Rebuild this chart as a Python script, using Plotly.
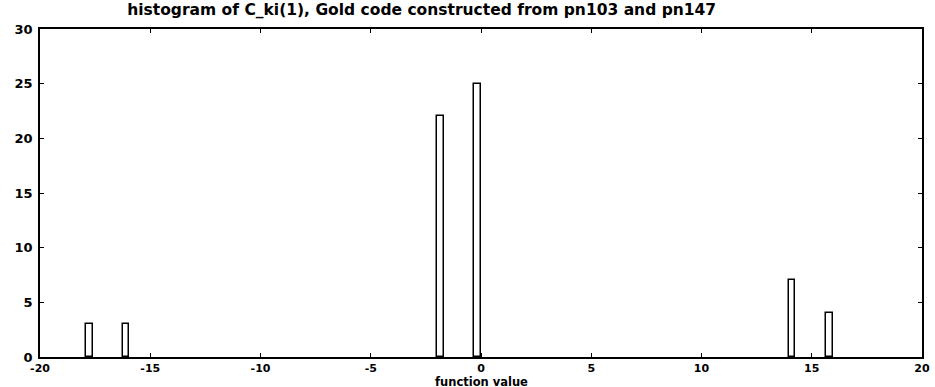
import plotly.graph_objects as go

# Data
bin_centers = [-17.75, -16.1, -1.85, -0.15, 14.1, 15.8]
counts = [3, 3, 22, 25, 7, 4]
x_ticks = [-20, -15, -10, -5, 0, 5, 10, 15, 20]
y_ticks = [0, 5, 10, 15, 20, 25, 30]

FONT = "DejaVu Sans"

fig = go.Figure()
fig.add_trace(go.Bar(
    x=bin_centers,
    y=counts,
    width=0.3,
    marker=dict(color="white", line=dict(color="black", width=1.5)),
    showlegend=False,
))

fig.update_layout(
    width=935,
    height=387,
    margin=dict(l=40, r=13, t=29, b=30, autoexpand=False),
    paper_bgcolor="white",
    plot_bgcolor="white",
    font=dict(family=FONT, size=12, color="black"),
    title=dict(
        text="<b>histogram of C_ki(1), Gold code constructed from pn103 and pn147</b>",
        x=0.451, xanchor="center", y=0.988, yanchor="top",
        font=dict(family=FONT, size=15.5, color="black"),
    ),
    bargap=0,
    annotations=[dict(
        text="<b>function value</b>",
        xref="paper", yref="paper", x=0.5, y=0,
        xanchor="center", yanchor="top", yshift=-17,
        showarrow=False, borderpad=0,
        font=dict(family=FONT, size=11.5, color="black"),
    )],
)

fig.update_xaxes(
    range=[-20, 20],
    tickmode="array",
    tickvals=x_ticks,
    ticktext=[f"<b>{v}</b>" for v in x_ticks],
    ticks="inside",
    ticklen=4,
    tickcolor="black",
    showline=True,
    linecolor="black",
    linewidth=1.5,
    mirror="ticks",
    showgrid=False,
    zeroline=False,
    automargin=False,
    ticklabelstandoff=0,
    tickfont=dict(family=FONT, size=11),
)
fig.update_yaxes(
    range=[0, 30],
    tickmode="array",
    tickvals=y_ticks,
    ticktext=[f"<b>{v}</b>" for v in y_ticks],
    ticks="inside",
    ticklen=4,
    tickcolor="black",
    showline=True,
    linecolor="black",
    linewidth=1.5,
    mirror="ticks",
    showgrid=False,
    zeroline=False,
    automargin=False,
    ticklabelstandoff=3,
    tickfont=dict(family=FONT, size=13),
)

fig.write_html(
    "out.html",
    config={"displayModeBar": False},
    post_script="document.documentElement.style.margin='0';document.body.style.margin='0';document.body.style.overflow='hidden';",
)
